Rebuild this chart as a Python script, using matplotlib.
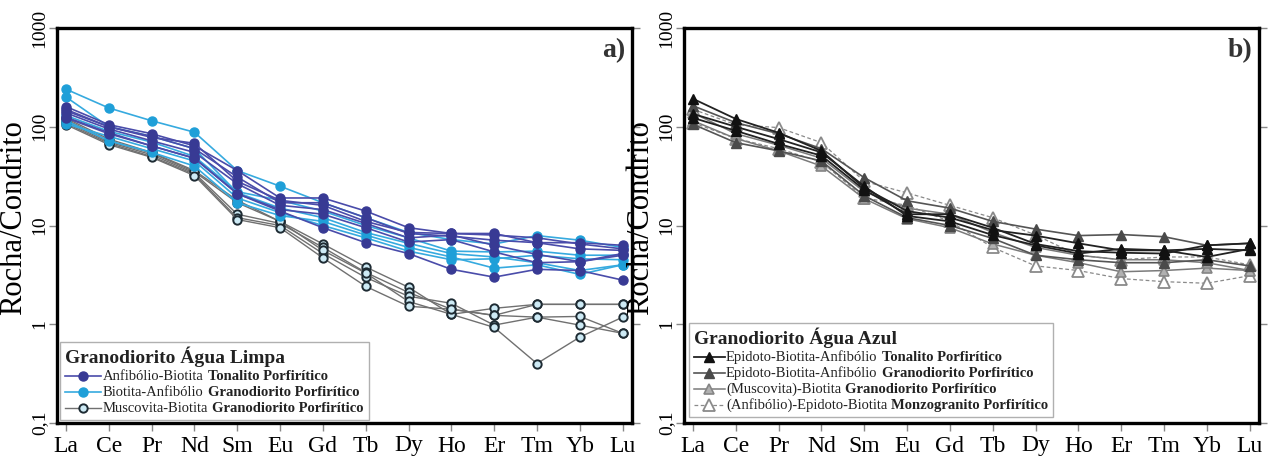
import numpy as np
import matplotlib
matplotlib.use("Agg")
import matplotlib.pyplot as plt
from matplotlib.ticker import FixedLocator, NullLocator
from matplotlib.lines import Line2D
from matplotlib.offsetbox import TextArea, HPacker, VPacker, DrawingArea, AnchoredOffsetbox

plt.rcParams['font.family'] = ['Liberation Serif', 'DejaVu Serif']

# elementos terras raras
elementos = ['La', 'Ce', 'Pr', 'Nd', 'Sm', 'Eu', 'Gd', 'Tb', 'Dy', 'Ho', 'Er', 'Tm', 'Yb', 'Lu']
y_ticks = [0.1, 1, 10, 100, 1000]
y_labels = ['0,1', '1', '10', '100', '1000']

# a) Granodiorito Agua Limpa
a_tonalito = [
    [160, 105, 85, 64, 36, 19, 19, 14, 9.5, 8.3, 8.3, 6.7, 6.7, 6.3],
    [150, 100, 80, 60, 31, 17, 17, 12, 8.3, 7.8, 7.1, 6.7, 5.8, 5.6],
    [138, 95, 72, 55, 26.5, 16, 14.5, 10.5, 7.5, 8.0, 6.3, 5.1, 4.3, 5.0],
    [125, 87, 64, 48, 21, 14.5, 13, 9.5, 6.8, 7.2, 5.4, 4.2, 4.3, 5.2],
    [123, 85, 64, 48, 21, 14, 9.5, 6.7, 5.2, 3.6, 3.0, 3.6, 3.5, 2.8],
    [145, 100, 78, 68, 28, 18, 16, 11, 8.5, 8.3, 8.0, 7.5, 6.5, 5.8],
]
a_granodiorito = [
    [240, 155, 115, 88, 36, 25, 17, 12, 8.5, 7.2, 6.5, 7.9, 7.1, 6.0],
    [200, 100, 80, 60, 21.5, 15, 12, 8.5, 6.6, 5.2, 4.8, 4.2, 3.5, 4.0],
    [115, 72, 55, 40, 17, 12.6, 11, 8.0, 6.0, 4.8, 3.7, 4.0, 3.2, 4.0],
    [130, 90, 70, 50, 22, 18, 14, 10, 7.5, 5.5, 5.4, 5.5, 5.0, 5.0],
    [107, 80, 60, 45, 19, 13.5, 10, 7.5, 5.5, 4.5, 4.6, 5.0, 4.6, 4.5],
]
a_muscovita = [
    [118, 72, 54, 35, 17, 11, 6.5, 3.8, 2.37, 1.26, 1.45, 1.59, 1.59, 1.59],
    [112, 70, 52, 34, 13, 10.5, 6.0, 3.35, 2.1, 1.42, 1.23, 1.59, 1.59, 1.59],
    [108, 68, 50, 33, 12, 10, 5.2, 2.98, 1.92, 1.63, 0.98, 1.18, 1.2, 0.81],
    [122, 75, 55, 36, 18, 11, 5.6, 3.3, 1.7, 1.26, 0.93, 0.40, 0.74, 1.18],
    [105, 66, 49, 32, 11.5, 9.5, 4.7, 2.42, 1.52, 1.42, 1.23, 1.18, 0.98, 0.81],
]

# b) Granodiorito Agua Azul
b_tonalito = [
    [192, 120, 87, 57, 24, 14, 12, 9, 7.9, 6.6, 5.6, 5.6, 5.8, 5.6],
    [123, 91, 67, 51, 23, 13, 13, 9.5, 6.5, 5.5, 5.3, 5.2, 6.3, 6.6],
    [135, 100, 75, 55, 25, 12.5, 11, 8, 6.3, 5.2, 5.8, 5.6, 4.8, 5.8],
]
b_granodiorito = [
    [163, 110, 85, 60, 30.5, 17.8, 15, 11, 9.2, 7.9, 8.1, 7.7, 6.3, 6.6],
    [106, 69, 57, 45, 20, 12, 10, 7.4, 5.0, 4.5, 4.2, 4.2, 4.5, 3.9],
]
b_muscovita = [
    [115, 76, 57, 40, 18.7, 11.7, 9.5, 6.5, 5.0, 4.2, 3.4, 3.5, 3.7, 3.5],
    [138, 85, 65, 48, 22, 15, 13, 8.5, 6.0, 5.0, 4.5, 4.5, 4.2, 3.5],
]
b_monzogranito = [
    [150, 105, 98, 69, 28, 21.4, 16, 12, 8.0, 5.0, 4.5, 4.8, 4.8, 4.0],
    [110, 76, 60, 44, 19, 16, 11, 6.0, 3.9, 3.5, 2.9, 2.7, 2.6, 3.1],
]

estilo_a = {
    'ton': dict(color='#4a4caa', lw=1.2, marker='o', ms=6.5, mfc='#383a94', mec='#383a94', mew=1),
    'gra': dict(color='#36aadf', lw=1.2, marker='o', ms=6.5, mfc='#1f9fd8', mec='#1f9fd8', mew=1),
    'mus': dict(color='#707070', lw=1.0, marker='o', ms=6.0, mfc='#cdeaf5', mec='#1e2b33', mew=1.4),
}
estilo_b = {
    'ton': dict(color='#222222', lw=1.3, marker='^', ms=7.5, mfc='#111111', mec='#111111', mew=1),
    'gra': dict(color='#555555', lw=1.2, marker='^', ms=7.5, mfc='#4a4a4a', mec='#4a4a4a', mew=1),
    'mus': dict(color='#7a7a7a', lw=1.1, marker='^', ms=7.5, mfc='#b0b0b0', mec='#858585', mew=1.2),
    'mon': dict(color='#8a8a8a', lw=0.9, ls=(0, (3, 2)), marker='^', ms=8, mfc='white', mec='#8a8a8a', mew=1.3),
}

x = np.arange(len(elementos))

fig = plt.figure(figsize=(12.82, 4.59), dpi=100)
ax_a = fig.add_axes([57 / 1282, 1 - 423 / 459, 575 / 1282, 395 / 459])
ax_b = fig.add_axes([684 / 1282, 1 - 423 / 459, 575 / 1282, 395 / 459])


def base(ax, letra):
    ax.set_yscale('log')
    ax.set_ylim(0.1, 1000)
    ax.set_xlim(-0.21, 13.22)
    ax.yaxis.set_major_locator(FixedLocator(y_ticks))
    ax.yaxis.set_minor_locator(NullLocator())
    ax.set_yticklabels(y_labels, rotation=90, va='center', fontsize=14)
    ax.set_xticks(x)
    ax.set_xticklabels(elementos, fontsize=17)
    ax.tick_params(axis='x', direction='out', length=6, width=1, color='#888888', pad=3)
    ax.tick_params(axis='y', which='both', direction='out', length=6, width=1, color='#888888',
                   pad=0, right=True)
    for s in ax.spines.values():
        s.set_linewidth(2.4)
        s.set_color('black')
    ax.set_ylabel('Rocha/Condrito', fontsize=22)
    ax.yaxis.set_label_coords(-0.05, 0.52)
    ax.text(0.988, 0.975, letra, transform=ax.transAxes, ha='right', va='top',
            fontsize=20, fontweight='bold', color='#333333')


def legenda(ax, titulo, linhas, ancora, larg=26):
    filhos = [TextArea(titulo, textprops=dict(fontsize=14, fontweight='bold', color='#222222'))]
    for est, normal, negrito in linhas:
        da = DrawingArea(larg, 10, 0, 0)
        kw = {k: v for k, v in est.items() if k in ('color', 'lw', 'ls')}
        da.add_artist(Line2D([0, larg], [5, 5], **kw))
        mk = {k: v for k, v in est.items() if k in ('marker', 'ms', 'mfc', 'mec', 'mew')}
        da.add_artist(Line2D([larg / 2], [5], ls='none', **mk))
        t1 = TextArea(normal, textprops=dict(fontsize=10.5, color='#222222'))
        t2 = TextArea(negrito, textprops=dict(fontsize=10.5, fontweight='bold', color='#222222'))
        filhos.append(HPacker(children=[da, HPacker(children=[t1, t2], sep=3, pad=0)],
                              align='center', sep=1, pad=0))
    caixa = VPacker(children=filhos, align='left', sep=1.5, pad=0)
    ab = AnchoredOffsetbox(loc='lower left', child=caixa, pad=0.35, borderpad=0, frameon=True,
                           bbox_to_anchor=ancora, bbox_transform=ax.transAxes)
    ab.patch.set_edgecolor('#b0b0b0')
    ab.patch.set_linewidth(1)
    ax.add_artist(ab)


# painel a
base(ax_a, 'a)')
for v in a_muscovita:
    ax_a.plot(x, v, **estilo_a['mus'])
for v in a_granodiorito:
    ax_a.plot(x, v, **estilo_a['gra'])
for v in a_tonalito:
    ax_a.plot(x, v, **estilo_a['ton'])
legenda(ax_a, 'Granodiorito Água Limpa', [
    (estilo_a['ton'], 'Anfibólio-Biotita', 'Tonalito Porfirítico'),
    (estilo_a['gra'], 'Biotita-Anfibólio', 'Granodiorito Porfirítico'),
    (estilo_a['mus'], 'Muscovita-Biotita', 'Granodiorito Porfirítico'),
], (0.006, 0.008))

# painel b
base(ax_b, 'b)')
for v in b_monzogranito:
    ax_b.plot(x, v, **estilo_b['mon'])
for v in b_muscovita:
    ax_b.plot(x, v, **estilo_b['mus'])
for v in b_granodiorito:
    ax_b.plot(x, v, **estilo_b['gra'])
for v in b_tonalito:
    ax_b.plot(x, v, **estilo_b['ton'])
legenda(ax_b, 'Granodiorito Água Azul', [
    (estilo_b['ton'], 'Epidoto-Biotita-Anfibólio', 'Tonalito Porfirítico'),
    (estilo_b['gra'], 'Epidoto-Biotita-Anfibólio', 'Granodiorito Porfirítico'),
    (estilo_b['mus'], '(Muscovita)-Biotita', 'Granodiorito Porfirítico'),
    (estilo_b['mon'], '(Anfibólio)-Epidoto-Biotita', 'Monzogranito Porfirítico'),
], (0.009, 0.015), larg=22)

fig.savefig('out.png', dpi=100)
